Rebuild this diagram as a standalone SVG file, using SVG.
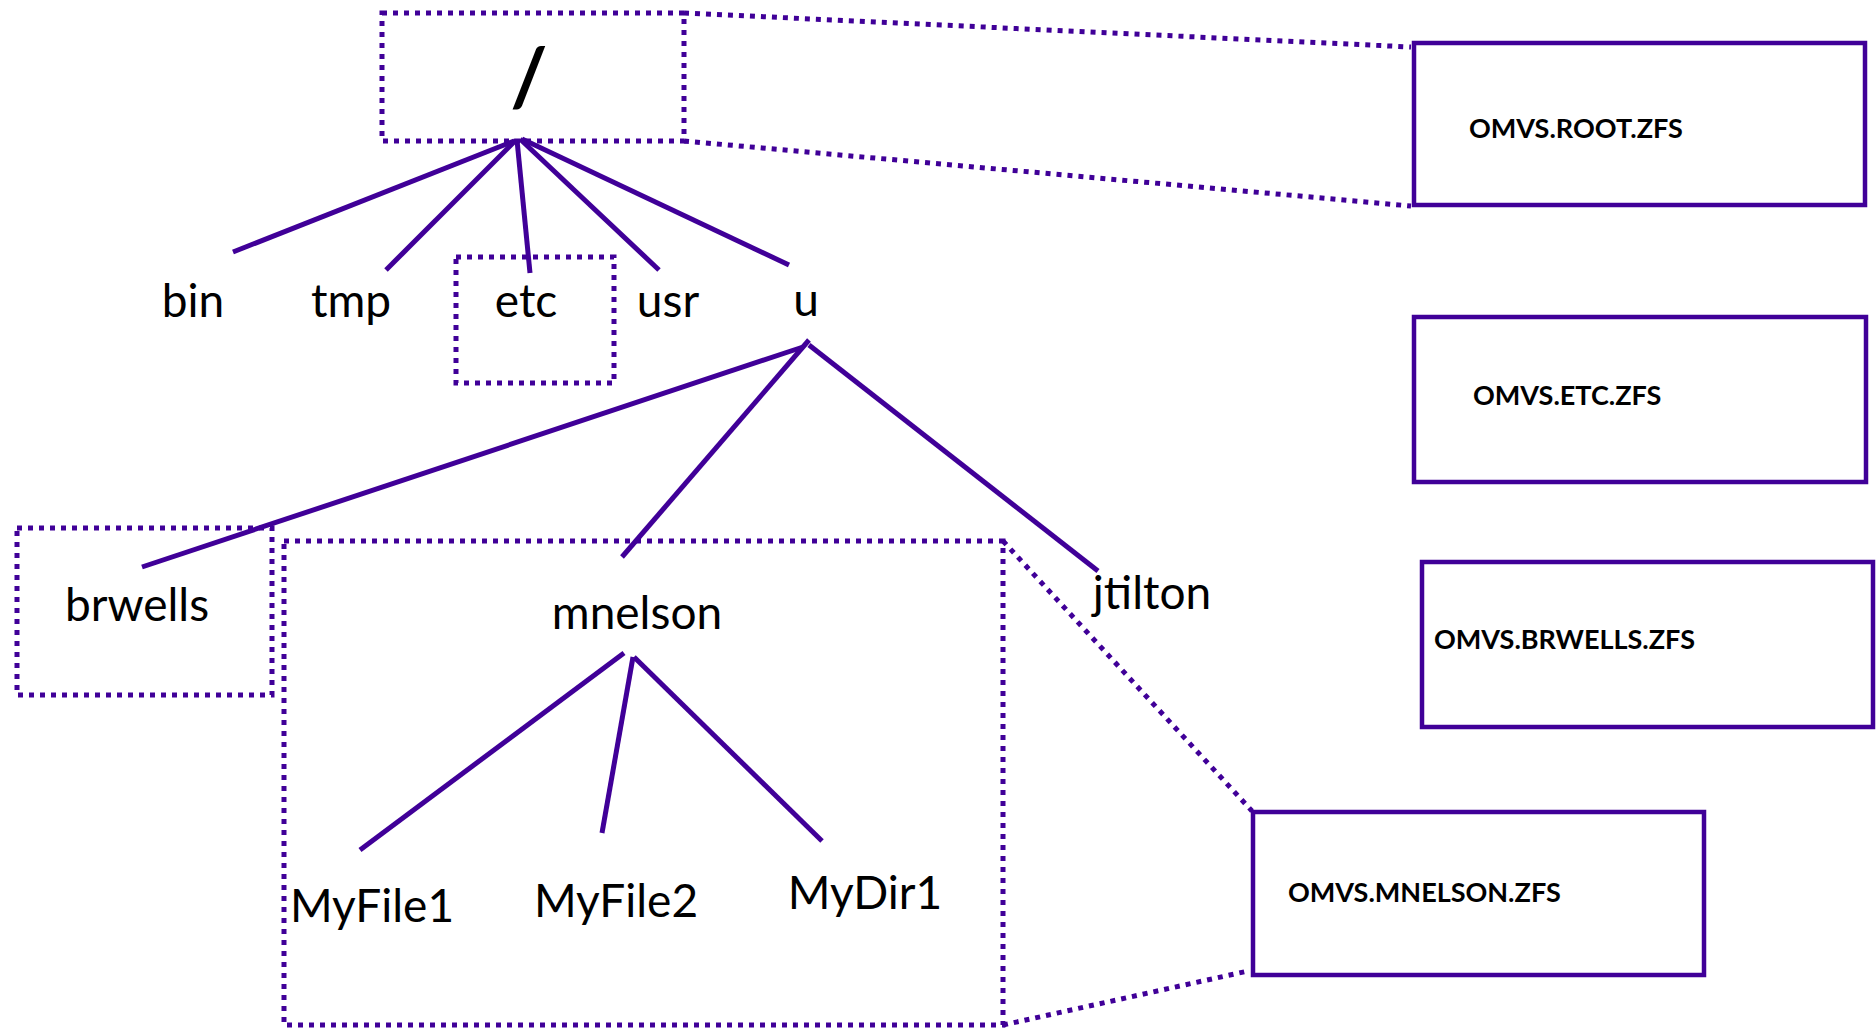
<svg xmlns="http://www.w3.org/2000/svg" width="1876" height="1028" viewBox="0 0 1876 1028">
<style>
.bg{fill:#ffffff}
.dot{fill:none;stroke:#400098;stroke-width:5;stroke-dasharray:5 6}
.dotl{fill:none;stroke:#400098;stroke-width:5;stroke-dasharray:5 6}
.box{fill:none;stroke:#400098;stroke-width:4.5}
.ln{stroke:#400098;stroke-width:5;fill:none}
.lbl{font-family:Lato,"Open Sans","Liberation Sans",sans-serif;font-size:46px;fill:#000;text-anchor:middle}
.fs{font-family:Lato,"Open Sans","Liberation Sans",sans-serif;font-size:27px;font-weight:bold;fill:#000}
.root{font-family:Lato,"Open Sans","Liberation Sans",sans-serif;font-size:80px;font-weight:bold;fill:#000;text-anchor:middle}
</style>
<rect class="bg" x="0" y="0" width="1876" height="1028"/>
<g id="connectors">
<line class="ln" x1="514" y1="141" x2="233" y2="252"/>
<line class="ln" x1="516" y1="140" x2="386" y2="270"/>
<line class="ln" x1="517" y1="140" x2="530" y2="273"/>
<line class="ln" x1="520" y1="139" x2="659" y2="270"/>
<line class="ln" x1="522" y1="139" x2="789" y2="265"/>
<line class="ln" x1="803" y1="347" x2="142" y2="567"/>
<line class="ln" x1="809" y1="340" x2="622" y2="557"/>
<line class="ln" x1="809" y1="345" x2="1098" y2="571"/>
<line class="ln" x1="624" y1="653" x2="360" y2="850"/>
<line class="ln" x1="633" y1="657" x2="602" y2="833"/>
<line class="ln" x1="634" y1="657" x2="822" y2="841"/>
<line class="dotl" x1="684" y1="13" x2="1411" y2="47"/>
<line class="dotl" x1="684" y1="141" x2="1411" y2="206"/>
<line class="dotl" x1="1003" y1="541" x2="1252" y2="811"/>
<line class="dotl" x1="1003" y1="1025" x2="1248" y2="971"/>
</g>
<g id="root">
<rect class="dot" x="382" y="13" width="302" height="128"/>
<text class="root" x="529" y="106">/</text>
</g>
<g id="bin"><text class="lbl" x="193" y="317">bin</text></g>
<g id="tmp"><text class="lbl" x="351" y="317">tmp</text></g>
<g id="etc">
<rect class="dot" x="456" y="257" width="158" height="126"/>
<text class="lbl" x="526" y="317">etc</text>
</g>
<g id="usr"><text class="lbl" x="668" y="317">usr</text></g>
<g id="u"><text class="lbl" x="806" y="316">u</text></g>
<g id="brwells">
<rect class="dot" x="17" y="528" width="255" height="167"/>
<text class="lbl" x="137" y="621">brwells</text>
</g>
<g id="mnelson">
<rect class="dot" x="284" y="541" width="719" height="484"/>
<text class="lbl" x="637" y="629">mnelson</text>
</g>
<g id="jtilton"><text class="lbl" x="1152" y="609">jtilton</text></g>
<g id="myfile1"><text class="lbl" x="372" y="922">MyFile1</text></g>
<g id="myfile2"><text class="lbl" x="616" y="917">MyFile2</text></g>
<g id="mydir1"><text class="lbl" x="865" y="909">MyDir1</text></g>
<g id="omvs-root">
<rect class="box" x="1414" y="43" width="451" height="162"/>
<text class="fs" x="1469" y="138">OMVS.ROOT.ZFS</text>
</g>
<g id="omvs-etc">
<rect class="box" x="1414" y="317" width="452" height="165"/>
<text class="fs" x="1473" y="405">OMVS.ETC.ZFS</text>
</g>
<g id="omvs-brwells">
<rect class="box" x="1422" y="562" width="451" height="165"/>
<text class="fs" x="1434" y="649">OMVS.BRWELLS.ZFS</text>
</g>
<g id="omvs-mnelson">
<rect class="box" x="1253" y="812" width="451" height="163"/>
<text class="fs" x="1288" y="902">OMVS.MNELSON.ZFS</text>
</g>
</svg>
